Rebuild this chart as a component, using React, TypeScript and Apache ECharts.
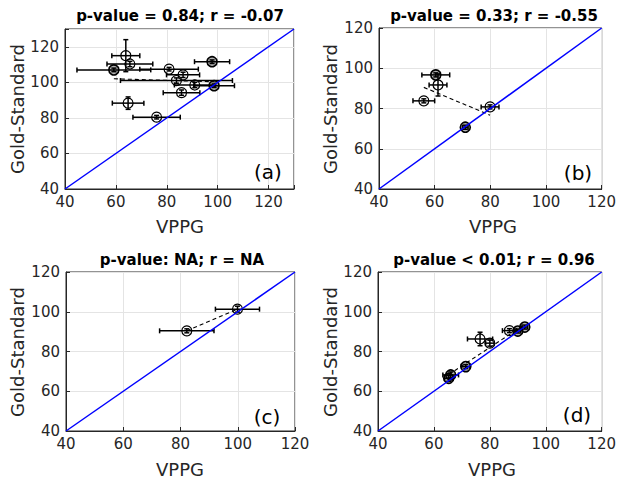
import React, { useEffect, useRef } from "react";
import * as echarts from "echarts";

// ---------- Data ----------
// Panel (a)
const aX = [63.9, 65.5, 59.2, 80.9, 86.4, 83.8, 91.0, 98.6, 85.8, 97.8, 64.8, 76.0];
const aY = [115.0, 110.3, 107.0, 107.4, 104.2, 101.0, 98.5, 98.1, 94.2, 111.6, 88.3, 80.4];
const aXErr = [5.5, 9.0, 14.5, 11.5, 6.5, 22.0, 8.0, 8.0, 7.2, 6.9, 6.2, 9.3];
const aYErr = [9.0, 1.5, 1.0, 1.0, 1.5, 1.5, 1.5, 1.0, 1.5, 1.0, 3.5, 1.0];
const aFitX = [59.2, 98.6];
const aFitY = [102.0, 100.3];

// Panel (b)
const bX = [60.4, 61.2, 56.1, 79.9, 71.0];
const bY = [96.7, 91.7, 83.8, 80.8, 70.7];
const bXErr = [5.0, 3.2, 3.9, 3.2, 1.0];
const bYErr = [1.0, 5.5, 1.0, 1.0, 1.0];
const bFitX = [56.1, 79.9];
const bFitY = [90.5, 76.7];

// Panel (c)
const cX = [82.2, 99.9];
const cY = [90.4, 101.3];
const cXErr = [9.5, 7.7];
const cYErr = [1.0, 1.5];
const cFitX = [82.2, 99.9];
const cFitY = [90.4, 101.3];

// Panel (d)
const dX = [65.3, 66.0, 71.4, 76.5, 80.0, 87.0, 90.0, 92.5];
const dY = [66.5, 68.2, 72.4, 86.3, 84.2, 90.5, 90.3, 92.3];
const dXErr = [1.5, 2.8, 1.5, 4.5, 1.5, 2.5, 1.0, 1.0];
const dYErr = [1.5, 1.5, 1.0, 3.4, 1.5, 1.0, 1.0, 1.0];
const dFitX = [65.3, 92.5];
const dFitY = [68.4, 93.6];

const titles = [
  "p-value = 0.84; r = -0.07",
  "p-value = 0.33; r = -0.55",
  "p-value: NA; r = NA",
  "p-value < 0.01; r = 0.96",
];
const panelTags = ["(a)", "(b)", "(c)", "(d)"];
const axisMin = 40;
const axisMax = [130, 120, 120, 120];
const tickStep = 20;
const xName = "VPPG";
const yName = "Gold-Standard";

// ---------- Layout / style ----------
const FONT = "DejaVu Sans";
const AX = "#262626";
const grids = [
  { left: 65, top: 29, width: 229, height: 160 },
  { left: 379, top: 28, width: 228, height: 161 },
  { left: 66, top: 272, width: 229, height: 159 },
  { left: 378, top: 272, width: 228, height: 159 },
];
const shaded = [[2, 7, 9], [0, 4], [], [0, 1, 2, 6, 7]];

const panels = [
  { x: aX, y: aY, xe: aXErr, ye: aYErr, fx: aFitX, fy: aFitY },
  { x: bX, y: bY, xe: bXErr, ye: bYErr, fx: bFitX, fy: bFitY },
  { x: cX, y: cY, xe: cXErr, ye: cYErr, fx: cFitX, fy: cFitY },
  { x: dX, y: dY, xe: dXErr, ye: dYErr, fx: dFitX, fy: dFitY },
];

function axisCfg(i: number, isX: boolean) {
  return {
    type: "value",
    gridIndex: i,
    min: axisMin,
    max: axisMax[i],
    interval: tickStep,
    axisLine: { show: true, lineStyle: { color: AX, width: 1 } },
    axisTick: { show: true, inside: true, length: 4, lineStyle: { color: AX } },
    splitLine: { show: true, lineStyle: { color: "#e4e4e4", width: 1 } },
    axisLabel: {
      color: AX,
      fontSize: 15,
      fontFamily: FONT,
      margin: isX ? 5 : 6,
      formatter: (v: number) => (v % tickStep === 0 ? String(v) : ""),
    },
  };
}

const errRender = (params: any, api: any) => {
  const x = api.value(0);
  const y = api.value(1);
  const ex = api.value(2);
  const ey = api.value(3);
  const l = api.coord([x - ex, y]);
  const r = api.coord([x + ex, y]);
  const t = api.coord([x, y + ey]);
  const b = api.coord([x, y - ey]);
  const cap = 2.5;
  const st = { stroke: "#000", lineWidth: 1.5 };
  const ln = (x1: number, y1: number, x2: number, y2: number) => ({
    type: "line",
    shape: { x1, y1, x2, y2 },
    style: st,
  });
  return {
    type: "group",
    children: [
      ln(l[0], l[1], r[0], r[1]),
      ln(l[0], l[1] - cap, l[0], l[1] + cap),
      ln(r[0], r[1] - cap, r[0], r[1] + cap),
      ln(t[0], t[1], b[0], b[1]),
      ln(t[0] - cap, t[1], t[0] + cap, t[1]),
      ln(b[0] - cap, b[1], b[0] + cap, b[1]),
    ],
  };
};

export default function App() {
  const ref = useRef<HTMLDivElement>(null);
  useEffect(() => {
    if (!ref.current) return;
    const chart = echarts.init(ref.current, undefined, { renderer: "svg" });
    const series: any[] = [];
    panels.forEach((p, i) => {
      series.push({
        type: "line",
        xAxisIndex: i,
        yAxisIndex: i,
        data: p.fx.map((v, k) => [v, p.fy[k]]),
        symbol: "none",
        lineStyle: { color: "#000", width: 1.1, type: [4, 3] },
        z: 2,
        silent: true,
      });
      series.push({
        type: "custom",
        xAxisIndex: i,
        yAxisIndex: i,
        coordinateSystem: "cartesian2d",
        data: p.x.map((v, k) => [v, p.y[k], p.xe[k], p.ye[k]]),
        encode: { x: 0, y: 1 },
        renderItem: errRender,
        z: 3,
        silent: true,
      });
      series.push({
        type: "scatter",
        xAxisIndex: i,
        yAxisIndex: i,
        symbol: "circle",
        symbolSize: 10,
        data: p.x.map((v, k) =>
          shaded[i].includes(k)
            ? { value: [v, p.y[k]], itemStyle: { color: "rgba(0,0,0,0.3)", borderWidth: 1.6 } }
            : [v, p.y[k]]
        ),
        itemStyle: { color: "rgba(255,255,255,0)", borderColor: "#000", borderWidth: 1.2, opacity: 1 },
        z: 4,
        silent: true,
      });
      series.push({
        type: "line",
        xAxisIndex: i,
        yAxisIndex: i,
        data: [
          [axisMin, axisMin],
          [axisMax[i], axisMax[i]],
        ],
        symbol: "none",
        lineStyle: { color: "#0000ff", width: 1.5 },
        z: 5,
        silent: true,
      });
    });

    const titlePos = [
      [180, 16],
      [494, 16],
      [182, 260],
      [494, 260],
    ];
    const xNamePos = [
      [180, 226],
      [493, 226],
      [180, 469],
      [492, 469],
    ];
    const yNamePos = [
      [17, 109],
      [330, 109],
      [17, 352],
      [330, 352],
    ];
    const tagPos = [
      [268, 172],
      [578, 173],
      [267, 417],
      [577, 415],
    ];
    const graphics: any[] = [];
    for (let i = 0; i < 4; i++) {
      graphics.push({
        type: "text",
        x: titlePos[i][0],
        y: titlePos[i][1],
        style: {
          text: titles[i],
          fontSize: 15,
          fontWeight: "bold",
          fontFamily: FONT,
          fill: "#000",
          textAlign: "center",
          textVerticalAlign: "middle",
        },
      });
      graphics.push({
        type: "text",
        x: xNamePos[i][0],
        y: xNamePos[i][1],
        style: {
          text: xName,
          fontSize: 18,
          fontFamily: FONT,
          fill: AX,
          textAlign: "center",
          textVerticalAlign: "middle",
        },
      });
      graphics.push({
        type: "text",
        x: yNamePos[i][0],
        y: yNamePos[i][1],
        rotation: Math.PI / 2,
        style: {
          text: yName,
          fontSize: 18,
          fontFamily: FONT,
          fill: AX,
          textAlign: "center",
          textVerticalAlign: "middle",
        },
      });
      graphics.push({
        type: "text",
        x: tagPos[i][0],
        y: tagPos[i][1],
        z: 10,
        style: {
          text: panelTags[i],
          fontSize: 20,
          fontFamily: FONT,
          fill: "#000",
          textAlign: "center",
          textVerticalAlign: "middle",
        },
      });
    }

    chart.setOption({
      animation: false,
      backgroundColor: "#ffffff",
      grid: grids.map((g) => ({
        ...g,
        show: true,
        borderColor: AX,
        borderWidth: 1,
        backgroundColor: "#ffffff",
      })),
      xAxis: grids.map((_, i) => axisCfg(i, true)),
      yAxis: grids.map((_, i) => axisCfg(i, false)),
      series,
      graphic: graphics,
    });
    return () => chart.dispose();
  }, []);
  return (
    <div
      ref={ref}
      style={{ position: "fixed", left: 0, top: 0, width: 619, height: 483 }}
    />
  );
}
